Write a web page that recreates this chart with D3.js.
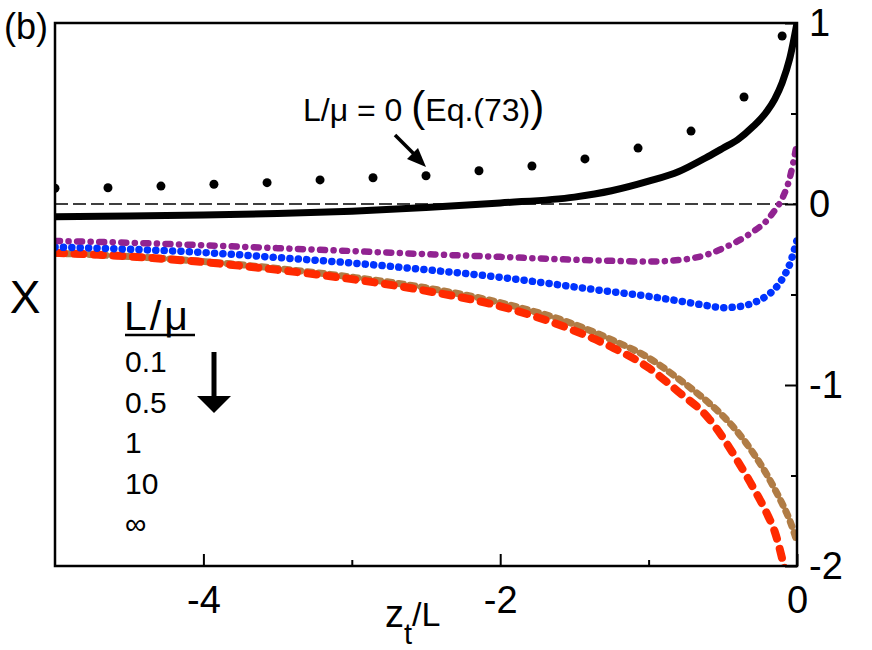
<!DOCTYPE html>
<html>
<head>
<meta charset="utf-8">
<script src="https://cdn.jsdelivr.net/npm/d3@7"></script>
<style>
  body { margin: 0; background: #fff; }
  text { font-family: "Liberation Sans", Arial, Helvetica, sans-serif; fill: #000; }
</style>
</head>
<body>
<div id="vis"></div>
<script>
var w = 872;
var h = 650;

// z_t/L sample points used for the curves
var zGrid = [-5, -4.5, -4, -3.5, -3, -2.5, -2, -1.5, -1.25, -1, -0.8, -0.6, -0.5, -0.4, -0.3, -0.2, -0.15, -0.1, -0.05, 0];

// L/mu = 0, solid black
var chiZero = [-0.070, -0.066, -0.061, -0.053, -0.040, -0.020, 0.006, 0.038, 0.073, 0.126, 0.178, 0.262, 0.308, 0.355, 0.425, 0.515, 0.580, 0.670, 0.800, 1.000];
// L/mu = 0.1
var chiPurple = [-0.204, -0.214, -0.228, -0.244, -0.260, -0.277, -0.292, -0.308, -0.314, -0.318, -0.310, -0.278, -0.245, -0.205, -0.155, -0.088, -0.035, 0.030, 0.140, 0.337];
// L/mu = 0.5
var chiBlue = [-0.238, -0.250, -0.268, -0.296, -0.326, -0.363, -0.405, -0.458, -0.485, -0.510, -0.535, -0.562, -0.573, -0.568, -0.548, -0.505, -0.470, -0.415, -0.335, -0.200];
// L/mu = 1
var chiBrown = [-0.272, -0.290, -0.318, -0.356, -0.404, -0.463, -0.545, -0.665, -0.750, -0.850, -0.965, -1.095, -1.170, -1.260, -1.370, -1.500, -1.575, -1.655, -1.745, -1.865];
// L/mu = 10 and infinity (overlap)
var chiRed = [-0.270, -0.290, -0.321, -0.364, -0.415, -0.480, -0.565, -0.700, -0.790, -0.905, -1.037, -1.180, -1.290, -1.420, -1.560, -1.715, -1.810, -1.960, -2.150, -2.400];

// Eq.(73) dots
var dotZ = [-5, -4.643, -4.286, -3.929, -3.571, -3.214, -2.857, -2.5, -2.143, -1.786, -1.429, -1.071, -0.714, -0.357, -0.1];
var dotChi = [0.087, 0.090, 0.099, 0.109, 0.118, 0.133, 0.145, 0.156, 0.184, 0.210, 0.249, 0.309, 0.403, 0.591, 0.928];

var legendLabels = ["0.1", "0.5", "1", "10", "\u221e"];
var xMajor = [-4, -2, 0];
var xMinor = [-3, -1];
var yMajor = [-2, -1, 0, 1];
var yMinor = [-1.5, -0.5, 0.5];

var plotL = 55, plotR = 797, plotT = 23, plotB = 566;

var x = d3.scaleLinear().domain([-5, 0]).range([plotL, plotR]);
var y = d3.scaleLinear().domain([-2, 1]).range([plotB, plotT]);

var svg = d3.select("#vis").append("svg").attr("width", w).attr("height", h);
svg.append("rect").attr("width", w).attr("height", h).attr("fill", "#fff");

svg.append("clipPath").attr("id", "plotclip")
  .append("rect")
  .attr("x", plotL).attr("y", plotT)
  .attr("width", plotR - plotL).attr("height", plotB - plotT);

var plot = svg.append("g").attr("clip-path", "url(#plotclip)");

// zero reference line
plot.append("line")
  .attr("x1", x(-5)).attr("x2", x(0))
  .attr("y1", y(0)).attr("y2", y(0))
  .attr("stroke", "#000")
  .attr("stroke-width", 1.5)
  .attr("stroke-dasharray", "13,5");

function series(vals) {
  return zGrid.map(function (z, i) { return [z, vals[i]]; });
}

var smooth = d3.line()
  .x(function (d) { return x(d[0]); })
  .y(function (d) { return y(d[1]); })
  .curve(d3.curveMonotoneX);

plot.append("path")
  .attr("d", smooth(series(chiBrown)))
  .attr("fill", "none")
  .attr("stroke", "#b07c45")
  .attr("stroke-width", 7)
  .attr("stroke-linecap", "round")
  .attr("stroke-dasharray", "5,6.5");

plot.append("path")
  .attr("d", smooth(series(chiRed)))
  .attr("fill", "none")
  .attr("stroke", "#ff2a00")
  .attr("stroke-width", 8)
  .attr("stroke-linecap", "round")
  .attr("stroke-dasharray", "9,10.5");

plot.append("path")
  .attr("d", smooth(series(chiBlue)))
  .attr("fill", "none")
  .attr("stroke", "#0033ff")
  .attr("stroke-width", 7.5)
  .attr("stroke-linecap", "round")
  .attr("stroke-dasharray", "0.1,8.3");

plot.append("path")
  .attr("d", smooth(series(chiPurple)))
  .attr("fill", "none")
  .attr("stroke", "#912391")
  .attr("stroke-width", 6.5)
  .attr("stroke-linecap", "round")
  .attr("stroke-dasharray", "5,8.5,0.1,8.5");

plot.append("path")
  .attr("d", smooth(series(chiZero)))
  .attr("fill", "none")
  .attr("stroke", "#000")
  .attr("stroke-width", 7)
  .attr("stroke-linejoin", "round");

plot.selectAll("circle.eq")
  .data(dotZ)
  .enter()
  .append("circle")
  .attr("class", "eq")
  .attr("cx", function (d) { return x(d); })
  .attr("cy", function (d, i) { return y(dotChi[i]); })
  .attr("r", 4.5)
  .attr("fill", "#000");

// frame
svg.append("rect")
  .attr("x", plotL).attr("y", plotT)
  .attr("width", plotR - plotL).attr("height", plotB - plotT)
  .attr("fill", "none")
  .attr("stroke", "#000")
  .attr("stroke-width", 2.5);

// x axis, ticks pointing up into the plot
svg.append("g")
  .attr("transform", "translate(0," + plotB + ")")
  .call(d3.axisBottom(x).tickValues(xMajor).tickSizeInner(-12).tickSizeOuter(0).tickPadding(20)
    .tickFormat(function (d) { return String(d); }));
svg.append("g")
  .attr("transform", "translate(0," + plotB + ")")
  .call(d3.axisBottom(x).tickValues(xMinor).tickSizeInner(-6).tickSizeOuter(0).tickFormat(""));

// y axis on the right, ticks pointing left
svg.append("g")
  .attr("transform", "translate(" + plotR + ",0)")
  .call(d3.axisRight(y).tickValues(yMajor).tickSizeInner(-12).tickSizeOuter(0).tickPadding(12)
    .tickFormat(function (d) { return String(d); }));
svg.append("g")
  .attr("transform", "translate(" + plotR + ",0)")
  .call(d3.axisRight(y).tickValues(yMinor).tickSizeInner(-6).tickSizeOuter(0).tickFormat(""));

svg.selectAll(".domain").remove();
svg.selectAll(".tick line").attr("stroke", "#000").attr("stroke-width", 2);
svg.selectAll(".tick text")
  .style("font-family", "'Liberation Sans', Arial, Helvetica, sans-serif")
  .style("font-size", "38px")
  .attr("fill", "#000");

// axis titles
var xt = svg.append("text").attr("x", 385).attr("y", 627).style("font-size", "38px");
xt.append("tspan").text("z");
xt.append("tspan").attr("dy", 17).style("font-size", "29px").text("t");
xt.append("tspan").attr("dy", -18).style("font-size", "34px").text("/L");

svg.append("text")
  .attr("x", 25).attr("y", 313)
  .attr("text-anchor", "middle")
  .style("font-size", "46px")
  .text("X");

svg.append("text")
  .attr("x", 4).attr("y", 39)
  .style("font-size", "36px")
  .text("(b)");

// annotation for the Eq.(73) dots
var ann = svg.append("text").attr("x", 303).attr("y", 121).style("font-size", "32px");
ann.append("tspan").text("L/\u03bc = 0 ");
ann.append("tspan").style("font-size", "42px").text("(");
ann.append("tspan").text("Eq.(73)");
ann.append("tspan").style("font-size", "42px").text(")");

svg.append("line")
  .attr("x1", 395).attr("y1", 135)
  .attr("x2", 416).attr("y2", 156)
  .attr("stroke", "#000").attr("stroke-width", 3.5);
svg.append("path")
  .attr("d", "M426,167 L407,159 L418,148 Z")
  .attr("fill", "#000");

// legend
svg.append("text")
  .attr("x", 124).attr("y", 330)
  .style("font-size", "41px")
  .style("letter-spacing", "3px")
  .text("L/\u03bc");
svg.append("line")
  .attr("x1", 125).attr("x2", 195)
  .attr("y1", 335).attr("y2", 335)
  .attr("stroke", "#000").attr("stroke-width", 2.5);

svg.selectAll("text.leg")
  .data(legendLabels)
  .enter()
  .append("text")
  .attr("class", "leg")
  .attr("x", 125)
  .attr("y", function (d, i) { return 372 + i * 40.5; })
  .style("font-size", "30px")
  .text(function (d) { return d; });

svg.append("line")
  .attr("x1", 214).attr("y1", 352)
  .attr("x2", 214).attr("y2", 399)
  .attr("stroke", "#000").attr("stroke-width", 5);
svg.append("path")
  .attr("d", "M197,396 L231,396 L214,413 Z")
  .attr("fill", "#000");
</script>
</body>
</html>
